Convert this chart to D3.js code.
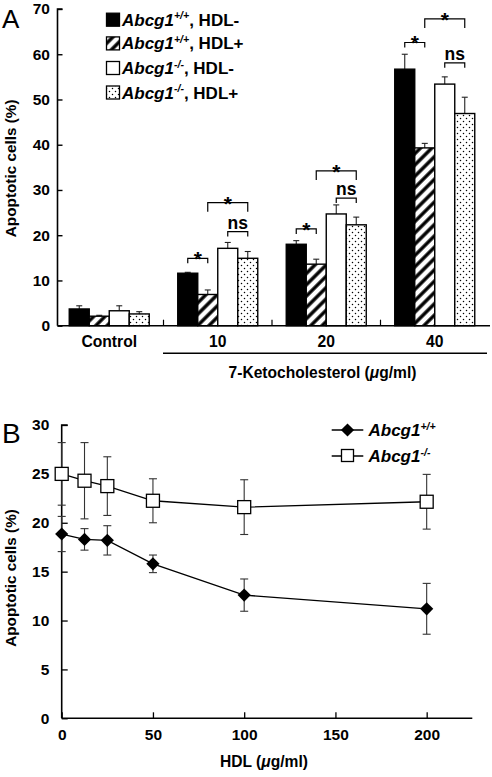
<!DOCTYPE html>
<html>
<head>
<meta charset="utf-8">
<script src="https://cdn.jsdelivr.net/npm/d3@7"></script>
<style>
  html, body { margin: 0; padding: 0; background: #fff; }
  svg { display: block; font-family: "Liberation Sans", Arial, Helvetica, sans-serif; }
</style>
</head>
<body>
<svg id="chart" width="492" height="777"></svg>
<script>
// ---------- Panel A data ----------
const groupsA = ["Control", "10", "20", "40"];
const seriesKeys = ["wtMinus", "wtPlus", "koMinus", "koPlus"];
const wtMinusMean = [3.7, 11.6, 18.0, 56.7];
const wtMinusErr  = [0.7, 0.2, 0.8, 3.3];
const wtPlusMean  = [2.1, 6.9, 13.6, 39.3];
const wtPlusErr   = [0.2, 1.0, 1.1, 1.0];
const koMinusMean = [3.3, 17.1, 24.7, 53.4];
const koMinusErr  = [1.1, 1.3, 2.0, 1.6];
const koPlusMean  = [2.6, 14.9, 22.3, 46.9];
const koPlusErr   = [0.5, 1.5, 1.7, 3.6];
const yTicksA = [0, 10, 20, 30, 40, 50, 60, 70];
// significance brackets: group, from-series index, to-series index, label, height (% units)
const sigGroup = ["10", "10", "10", "20", "20", "20", "40", "40", "40"];
const sigFrom  = [0, 1, 2, 0, 1, 2, 0, 1, 2];
const sigTo    = [1, 3, 3, 1, 3, 3, 1, 3, 3];
const sigLabel = ["*", "*", "ns", "*", "*", "ns", "*", "*", "ns"];
const sigLevel = [14.9, 27.2, 20.8, 21.4, 34.2, 28.2, 62.6, 67.8, 58.1];

// ---------- Panel B data ----------
const hdlDose = [0, 12.5, 25, 50, 100, 200];
const wtB     = [18.85, 18.3, 18.2, 15.8, 12.6, 11.2];
const wtBErr  = [1.8, 1.1, 1.5, 0.9, 1.65, 2.6];
const koB     = [25.0, 24.3, 23.75, 22.25, 21.6, 22.15];
const koBErr  = [3.2, 3.9, 3.0, 2.25, 2.8, 2.8];
const xTicksB = [0, 50, 100, 150, 200];
const yTicksB = [0, 5, 10, 15, 20, 25, 30];

const svg = d3.select("#chart");
const defs = svg.append("defs");
const FONT = "Liberation Sans, Arial, sans-serif";

// hatch pattern
const hatch = defs.append("pattern").attr("id", "hatch")
  .attr("patternUnits", "userSpaceOnUse").attr("width", 8).attr("height", 8)
  .attr("patternTransform", "rotate(45)");
hatch.append("rect").attr("width", 8).attr("height", 8).attr("fill", "#fff");
hatch.append("line").attr("x1", 2).attr("x2", 2).attr("y1", 0).attr("y2", 8)
  .attr("stroke", "#000").attr("stroke-width", 3.4);
// dot pattern
const dots = defs.append("pattern").attr("id", "dots")
  .attr("patternUnits", "userSpaceOnUse").attr("width", 6).attr("height", 6);
dots.append("rect").attr("width", 6).attr("height", 6).attr("fill", "#fff");
dots.append("circle").attr("cx", 1.5).attr("cy", 1.5).attr("r", 0.75).attr("fill", "#000");
dots.append("circle").attr("cx", 4.5).attr("cy", 4.5).attr("r", 0.75).attr("fill", "#000");

const fills = { wtMinus: "#000", wtPlus: "url(#hatch)", koMinus: "#fff", koPlus: "url(#dots)" };
const means = { wtMinus: wtMinusMean, wtPlus: wtPlusMean, koMinus: koMinusMean, koPlus: koPlusMean };
const errs  = { wtMinus: wtMinusErr, wtPlus: wtPlusErr, koMinus: koMinusErr, koPlus: koPlusErr };

// ================= Panel A =================
const axA = 57.5, x0A = 55, x1A = 489, y0A = 325.7, yTopA = 9;
const xA = d3.scaleBand().domain(groupsA).range([x0A, x1A]).padding(0);
const barW = 20;
const xSub = d3.scaleBand().domain(seriesKeys)
  .range([(xA.bandwidth() - 4 * barW) / 2, (xA.bandwidth() + 4 * barW) / 2]).padding(0);
const yA = d3.scaleLinear().domain([0, 70]).range([y0A, yTopA]);

const gA = svg.append("g");
const barData = [];
groupsA.forEach((g, gi) => seriesKeys.forEach(k => barData.push({ g, k, v: means[k][gi], e: errs[k][gi] })));

// error bars (upward only)
const errG = gA.append("g").attr("stroke", "#222").attr("stroke-width", 1.1);
barData.forEach(d => {
  const cx = xA(d.g) + xSub(d.k) + barW / 2;
  errG.append("line").attr("x1", cx).attr("x2", cx).attr("y1", yA(d.v)).attr("y2", yA(d.v + d.e));
  errG.append("line").attr("x1", cx - 3).attr("x2", cx + 3).attr("y1", yA(d.v + d.e)).attr("y2", yA(d.v + d.e));
});
// bars
gA.append("g").selectAll("rect").data(barData).join("rect")
  .attr("x", d => xA(d.g) + xSub(d.k))
  .attr("y", d => yA(d.v))
  .attr("width", barW)
  .attr("height", d => y0A - yA(d.v))
  .attr("fill", d => fills[d.k])
  .attr("stroke", "#000").attr("stroke-width", 1.4);

// y axis A
const yAxisA = d3.axisLeft(yA).tickValues(yTicksA).tickSize(-5).tickPadding(7.5).tickFormat(d3.format("d"));
const yAxA = gA.append("g").attr("transform", `translate(${axA},0)`).call(yAxisA);
yAxA.select(".domain").attr("d", `M5,${yTopA}H0V${y0A}`).attr("stroke-width", 1.6);
yAxA.selectAll(".tick line").attr("stroke-width", 1.4);
yAxA.selectAll(".tick text").attr("font-size", 15.5).attr("font-weight", "bold").attr("fill", "#000")
  .attr("font-family", FONT);

// x axis A (ticks between groups)
const xAxisA = d3.axisBottom(xA).tickSize(0).tickPadding(10);
const xAxA = gA.append("g").attr("transform", `translate(0,${y0A})`).call(xAxisA);
xAxA.select(".domain").attr("d", `M${axA},0H490`).attr("stroke-width", 1.6);
xAxA.selectAll(".tick text").attr("font-size", 15.7).attr("font-weight", "bold").attr("fill", "#000")
  .attr("font-family", FONT);
groupsA.slice(1).forEach(g => {
  gA.append("line").attr("x1", xA(g)).attr("x2", xA(g)).attr("y1", y0A).attr("y2", y0A - 6)
    .attr("stroke", "#000").attr("stroke-width", 1.2);
});
// group line under 7-KC concentrations
gA.append("line").attr("x1", xA("10") - 0.5).attr("x2", 487).attr("y1", 353.3).attr("y2", 353.3)
  .attr("stroke", "#000").attr("stroke-width", 1.4);
gA.append("text").attr("x", 322.5).attr("y", 377.7).attr("text-anchor", "middle")
  .attr("font-size", 15.6).attr("font-weight", "bold")
  .html('7-Ketocholesterol (<tspan font-style="italic">μ</tspan>g/ml)');

// y title A
gA.append("text").attr("transform", `translate(16,${(y0A + yTopA) / 2 + 1}) rotate(-90)`)
  .attr("text-anchor", "middle").attr("font-size", 15.3).attr("font-weight", "bold")
  .text("Apoptotic cells (%)");
// panel letter
svg.append("text").attr("x", 2).attr("y", 27.5).attr("font-size", 26).text("A");

// significance brackets
const sigG = gA.append("g");
sigGroup.forEach((g, i) => {
  const xa = xA(g) + xSub(seriesKeys[sigFrom[i]]) + barW / 2;
  const xb = xA(g) + xSub(seriesKeys[sigTo[i]]) + barW / 2;
  const yy = yA(sigLevel[i]);
  const leg = (sigTo[i] - sigFrom[i] >= 2) ? 9 : 5;
  sigG.append("path").attr("d", `M${xa},${yy + leg}V${yy}H${xb}V${yy + leg}`)
    .attr("fill", "none").attr("stroke", "#000").attr("stroke-width", 1.2);
  const isStar = sigLabel[i] === "*";
  sigG.append("text").attr("x", (xa + xb) / 2).attr("y", isStar ? yy + 8 : yy - 3)
    .attr("text-anchor", "middle").attr("font-weight", "bold")
    .attr("font-size", isStar ? 21 : 17.5).text(sigLabel[i]);
});

// legend A
const legA = svg.append("g");
const legTexts = [["+/+", ", HDL-"], ["+/+", ", HDL+"], ["-/-", ", HDL-"], ["-/-", ", HDL+"]];
const legY = [19.7, 43.4, 68.0, 92.5];
seriesKeys.forEach((k, i) => {
  legA.append("rect").attr("x", 106.5).attr("y", legY[i] - 6.5).attr("width", 13).attr("height", 13)
    .attr("fill", fills[k]).attr("stroke", "#000").attr("stroke-width", 1.3);
  const t = legA.append("text").attr("x", 122).attr("y", legY[i] + 6).attr("font-size", 17).attr("font-weight", "bold");
  t.append("tspan").attr("font-style", "italic").text("Abcg1");
  t.append("tspan").attr("font-style", "italic").attr("font-size", 10.5).attr("dy", -6.5).text(legTexts[i][0]);
  t.append("tspan").attr("dy", 6.5).text(legTexts[i][1]);
});

// ================= Panel B =================
const gB = svg.append("g");
const xB = d3.scaleLinear().domain([0, 225]).range([61.7, 472.3]);
const yB = d3.scaleLinear().domain([0, 30]).range([718.3, 425]);

const xAxisB = d3.axisBottom(xB).tickValues(xTicksB).tickSize(-6).tickPadding(10.5).tickFormat(d3.format("d"));
const xAxB = gB.append("g").attr("transform", `translate(0,${yB(0)})`).call(xAxisB);
xAxB.select(".domain").attr("d", `M${xB(0)},0H${xB(225)}`).attr("stroke-width", 1.6);
xAxB.selectAll(".tick line").attr("stroke-width", 1.3);
xAxB.selectAll(".tick text").attr("font-size", 15.5).attr("font-weight", "bold").attr("fill", "#000")
  .attr("font-family", FONT);

const yAxisB = d3.axisLeft(yB).tickValues(yTicksB).tickSize(-6).tickPadding(12.4).tickFormat(d3.format("d"));
const yAxB = gB.append("g").attr("transform", `translate(${xB(0)},0)`).call(yAxisB);
yAxB.select(".domain").attr("d", `M6,${yB(30)}H0V${yB(0)}`).attr("stroke-width", 1.6);
yAxB.selectAll(".tick line").attr("stroke-width", 1.3);
yAxB.selectAll(".tick text").attr("font-size", 15.5).attr("font-weight", "bold").attr("fill", "#000")
  .attr("font-family", FONT);

gB.append("text").attr("x", 264).attr("y", 767).attr("text-anchor", "middle")
  .attr("font-size", 15.6).attr("font-weight", "bold")
  .html('HDL (<tspan font-style="italic">μ</tspan>g/ml)');
gB.append("text").attr("transform", `translate(16,578) rotate(-90)`)
  .attr("text-anchor", "middle").attr("font-size", 15.3).attr("font-weight", "bold")
  .text("Apoptotic cells (%)");
svg.append("text").attr("x", 2).attr("y", 443).attr("font-size", 28).text("B");

// error bars B
function drawErr(vals, errsB) {
  const g = gB.append("g").attr("stroke", "#333").attr("stroke-width", 1.1);
  hdlDose.forEach((x, i) => {
    const cx = xB(x), lo = yB(vals[i] - errsB[i]), hi = yB(vals[i] + errsB[i]);
    g.append("line").attr("x1", cx).attr("x2", cx).attr("y1", lo).attr("y2", hi);
    g.append("line").attr("x1", cx - 4).attr("x2", cx + 4).attr("y1", lo).attr("y2", lo);
    g.append("line").attr("x1", cx - 4).attr("x2", cx + 4).attr("y1", hi).attr("y2", hi);
  });
}
drawErr(koB, koBErr);
drawErr(wtB, wtBErr);

const line = d3.line().x(d => xB(d[0])).y(d => yB(d[1]));
gB.append("path").attr("d", line(hdlDose.map((x, i) => [x, koB[i]])))
  .attr("fill", "none").attr("stroke", "#000").attr("stroke-width", 1.3);
gB.append("path").attr("d", line(hdlDose.map((x, i) => [x, wtB[i]])))
  .attr("fill", "none").attr("stroke", "#000").attr("stroke-width", 1.3);

const sq = 13, dia = 6.6;
gB.append("g").selectAll("rect").data(hdlDose).join("rect")
  .attr("x", (d) => xB(d) - sq / 2).attr("y", (d, i) => yB(koB[i]) - sq / 2)
  .attr("width", sq).attr("height", sq).attr("fill", "#fff").attr("stroke", "#000").attr("stroke-width", 1.3);
gB.append("g").selectAll("path").data(hdlDose).join("path")
  .attr("d", (d, i) => { const cx = xB(d), cy = yB(wtB[i]); return `M${cx},${cy - dia}L${cx + dia},${cy}L${cx},${cy + dia}L${cx - dia},${cy}Z`; })
  .attr("fill", "#000");

// legend B
const legB = svg.append("g");
[[430, "+/+", "diamond"], [456, "-/-", "square"]].forEach(([yy, sup, shape]) => {
  legB.append("line").attr("x1", 331.7).attr("x2", 363.3).attr("y1", yy).attr("y2", yy)
    .attr("stroke", "#000").attr("stroke-width", 1.3);
  const cx = 347.5;
  if (shape === "diamond") {
    legB.append("path").attr("d", `M${cx},${yy - dia}L${cx + dia},${yy}L${cx},${yy + dia}L${cx - dia},${yy}Z`).attr("fill", "#000");
  } else {
    legB.append("rect").attr("x", cx - sq / 2 + 0.5).attr("y", yy - sq / 2).attr("width", sq - 1).attr("height", sq - 1)
      .attr("fill", "#fff").attr("stroke", "#000").attr("stroke-width", 1.3);
  }
  const t = legB.append("text").attr("x", 368.5).attr("y", yy + 6).attr("font-size", 17).attr("font-weight", "bold");
  t.append("tspan").attr("font-style", "italic").text("Abcg1");
  t.append("tspan").attr("font-style", "italic").attr("font-size", 10.5).attr("dy", -6.5).text(sup);
});
</script>
</body>
</html>
